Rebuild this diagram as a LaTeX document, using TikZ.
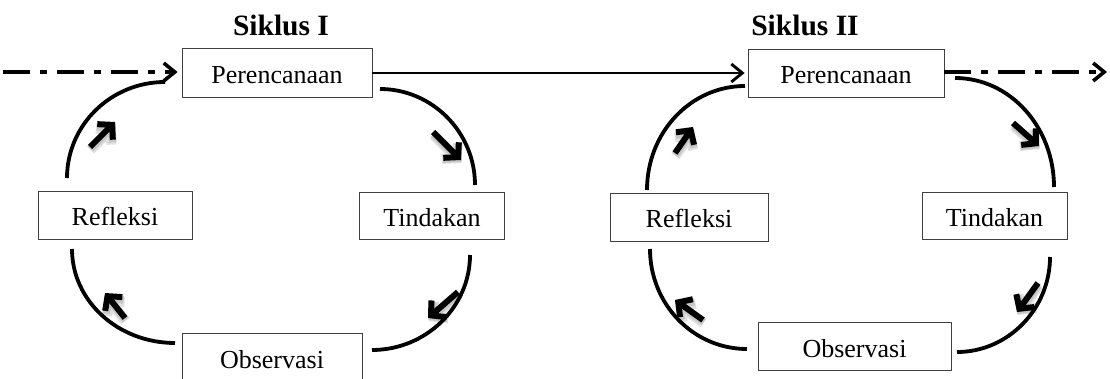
\documentclass[tikz,border=0pt]{standalone}
\usepackage{fontspec}
\setmainfont{Liberation Serif}
\usetikzlibrary{arrows.meta}
\begin{document}
\begin{tikzpicture}[x=1pt,y=-1pt,
  box/.style={draw=black!75, line width=0.8pt, fill=white, inner sep=0pt,
    font=\fontsize{26}{30}\selectfont, text height=22pt, text depth=0pt},
  title/.style={font=\fontsize{29.5}{34}\selectfont\bfseries},
  loop/.style={line width=3.8pt},
  flow/.style={line width=2.9pt, -{Straight Barb[length=11pt,width=18pt]}},
  dashdot/.style={line width=3.6pt, dash pattern=on 27pt off 10pt on 7pt off 10pt,
    -{Straight Barb[length=11pt,width=18pt]}},
  turn/.style={line width=6pt, -{Straight Barb[length=10pt,width=22pt]},
    preaction={draw=black!12, line width=10pt, transform canvas={shift={(0.5pt,-3pt)}}},
    preaction={draw=black!22, line width=7.5pt, transform canvas={shift={(0.5pt,-2pt)}}}}
]
\useasboundingbox (0,0) rectangle (1110,379);

% titles
\node[title] (t1) at (281,25) {Siklus I};
\node[title] (t2) at (805,25) {Siklus II};

% cycle I
\node[box, minimum width=190, minimum height=49] (p1) at (277,72.5) {Perencanaan};
\node[box, minimum width=154, minimum height=48] (r1) at (115,215) {Refleksi};
\node[box, minimum width=145, minimum height=47] (d1) at (432,216) {Tindakan};
\node[box, minimum width=180, minimum height=48] (o1) at (272,357) {Observasi};

% cycle II
\node[box, minimum width=196, minimum height=48] (p2) at (846,73) {Perencanaan};
\node[box, minimum width=158, minimum height=48] (r2) at (689,217) {Refleksi};
\node[box, minimum width=145, minimum height=47] (d2) at (994.5,215.5) {Tindakan};
\node[box, minimum width=193, minimum height=48] (o2) at (854.5,346) {Observasi};

% links between the cycles
\coordinate (in0) at (3,72);
\coordinate (out0) at (1107,72);
\draw[dashdot, shorten >=4pt] (in0) -- (p1.west |- in0);
\draw[flow, shorten >=3pt] (p1.east |- 0,73) -- (p2.west |- 0,73);
\draw[dashdot] (p2.east |- out0) -- (out0);

% direction marks, cycle I
\coordinate (m1s) at (90,147);  \coordinate (m1e) at (115,122);
\coordinate (m2s) at (433,132); \coordinate (m2e) at (461,160);
\coordinate (m3s) at (458,292); \coordinate (m3e) at (428,318);
\coordinate (m4s) at (125,318); \coordinate (m4e) at (105,293);
\draw[turn] (m1s) -- (m1e);
\draw[turn] (m2s) -- (m2e);
\draw[turn] (m3s) -- (m3e);
\draw[turn] (m4s) -- (m4e);

% direction marks, cycle II
\coordinate (n1s) at (675,153);  \coordinate (n1e) at (693,127);
\coordinate (n2s) at (1013,123); \coordinate (n2e) at (1039,146);
\coordinate (n3s) at (1038,283); \coordinate (n3e) at (1017,312);
\coordinate (n4s) at (703,320);  \coordinate (n4e) at (675,300);
\draw[turn] (n1s) -- (n1e);
\draw[turn] (n2s) -- (n2e);
\draw[turn] (n3s) -- (n3e);
\draw[turn] (n4s) -- (n4e);

% loop ends, cycle I
\coordinate (a1) at (67,178);  \coordinate (b1) at (165,82);
\coordinate (a2) at (380,89);  \coordinate (b2) at (475,185);
\coordinate (a3) at (470,255); \coordinate (b3) at (372,350);
\coordinate (a4) at (175,343); \coordinate (b4) at (72,249);
\draw[loop] (a1) .. controls (67,125) and (111,82) .. (b1);
\draw[loop] (a2) .. controls (432,89) and (475,132) .. (b2);
\draw[loop] (a3) .. controls (470,307) and (426,350) .. (b3);
\draw[loop] (a4) .. controls (118,343) and (72,301) .. (b4);

% loop ends, cycle II
\coordinate (c1) at (647,190);  \coordinate (e1) at (745,86);
\coordinate (c2) at (955,78);   \coordinate (e2) at (1054,187);
\coordinate (c3) at (1050,257); \coordinate (e3) at (957,352);
\coordinate (c4) at (747,349);  \coordinate (e4) at (650,249);
\draw[loop] (c1) .. controls (647,132) and (691,86) .. (e1);
\draw[loop] (c2) .. controls (1010,78) and (1054,127) .. (e2);
\draw[loop] (c3) .. controls (1050,309) and (1008,352) .. (e3);
\draw[loop] (c4) .. controls (693,349) and (650,304) .. (e4);
\end{tikzpicture}
\end{document}
